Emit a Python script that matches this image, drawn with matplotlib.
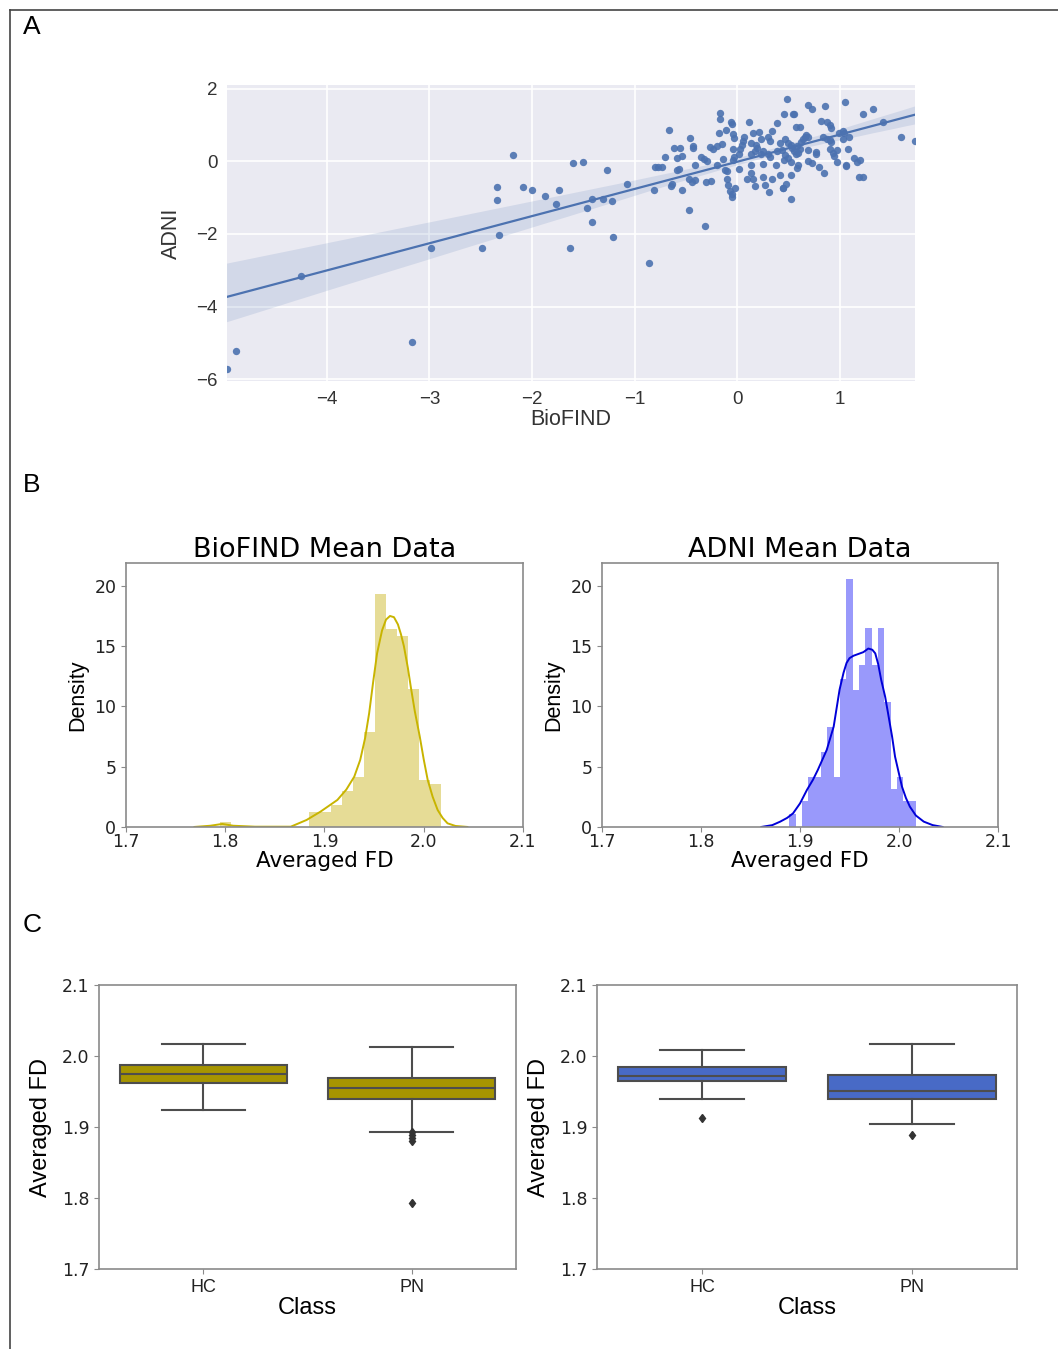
import numpy as np
import matplotlib
matplotlib.use("Agg")
import matplotlib.pyplot as plt
from matplotlib.lines import Line2D
import seaborn as sns

plt.rcParams['font.family'] = ['DejaVu Sans']
ARIAL = 'Liberation Sans'

# --- Panel A : BioFIND vs ADNI scores ---
biofind = [-4.97, -4.88, -4.25, -3.17, -2.98, -2.49, -2.32, -2.34, -2.34, -2.19, -2.09, -2.00,
           -1.87, -1.74, -1.77, -1.63, -1.60, -1.50, -1.27, -1.08, -1.42, -1.31, -1.22, -1.46,
           -1.42, -1.21, -0.86,
           -0.67, -0.81, -0.80, -0.77, -0.73, -0.71, -0.65, -0.64, -0.62, -0.59, -0.56, -0.54,
           -0.59, -0.57, -0.54, -0.47, -0.32, -0.46, -0.43, -0.43, -0.41, -0.47, -0.44, -0.41,
           -0.35, -0.33, -0.30, -0.31, -0.26, -0.27, -0.24, -0.20, -0.15, -0.18, -0.17, -0.17,
           -0.20, -0.14, -0.12, -0.10, -0.10, -0.09, -0.07, -0.05, -0.05, -0.02, -0.11, -0.06,
           -0.05, -0.04, -0.03, -0.04, -0.03, -0.04, 0.02, 0.03, 0.04, 0.05, 0.06, 0.02,
           0.09, 0.11, 0.13, 0.15, 0.13, 0.17, 0.19, 0.18, 0.13, 0.13, 0.15, 0.17,
           0.21, 0.23, 0.23, 0.25, 0.25, 0.25, 0.27, 0.31, 0.30, 0.32, 0.34, 0.30,
           0.32, 0.34, 0.39, 0.39, 0.41, 0.43, 0.38, 0.41, 0.44, 0.45, 0.48, 0.46,
           0.49, 0.52, 0.53, 0.45, 0.46, 0.49, 0.52, 0.47, 0.44, 0.52, 0.52, 0.54,
           0.55, 0.55, 0.57, 0.58, 0.59, 0.61, 0.57, 0.61, 0.58, 0.59, 0.62, 0.64,
           0.66, 0.67, 0.69, 0.69, 0.69, 0.73, 0.69, 0.77, 0.77, 0.73, 0.79, 0.84,
           0.81, 0.87, 0.90, 0.91, 0.85, 0.83, 0.87, 0.90, 0.91, 0.90, 0.93, 0.94,
           0.97, 0.97, 0.99, 1.03, 1.04, 1.05, 1.03, 1.08, 1.06, 1.06, 1.09, 1.14,
           1.16, 1.19, 1.18, 1.22, 1.22, 1.32, 1.42, 1.59, 1.73]
adni = [-5.71, -5.23, -3.15, -4.97, -2.39, -2.39, -2.04, -1.07, -0.72, 0.18, -0.72, -0.79,
        -0.97, -0.79, -1.18, -2.39, -0.04, -0.01, -0.25, -0.62, -1.03, -1.05, -1.09, -1.30,
        -1.66, -2.08, -2.79,
        0.85, -0.80, -0.17, -0.17, -0.17, 0.12, -0.69, -0.62, 0.37, 0.10, 0.37, 0.14,
        -0.25, -0.22, -0.80, -1.35, -1.78, 0.64, 0.41, 0.37, -0.11, -0.48, -0.57, -0.53,
        0.12, 0.05, 0.00, -0.58, -0.55, 0.38, 0.33, 0.42, 0.47, 0.79, 1.34, 1.15,
        -0.11, 0.06, -0.25, -0.28, -0.49, -0.66, -0.81, -0.90, -0.99, -0.75, 0.85, 1.07,
        1.02, 0.74, 0.63, 0.35, 0.12, 0.03, 0.21, 0.33, 0.45, 0.57, 0.67, -0.21,
        -0.49, 1.07, 0.50, 0.78, 0.21, 0.27, 0.36, 0.45, -0.10, -0.32, -0.49, -0.69,
        0.80, 0.62, 0.21, 0.28, -0.08, -0.43, -0.66, -0.86, 0.67, 0.57, 0.82, 0.21,
        0.12, -0.48, 1.04, 0.28, 0.50, 0.31, -0.11, -0.39, -0.74, 1.29, 1.71, 0.60,
        0.51, 0.46, 0.37, 0.03, 0.16, 0.10, -0.03, -0.64, -0.73, -1.03, -0.37, 1.29,
        1.29, 0.29, 0.20, 0.42, 0.24, 0.33, 0.93, 0.93, -0.19, -0.09, 0.53, 0.62,
        0.67, 0.72, 0.66, 0.01, 1.56, 1.43, 0.30, 0.25, 0.20, -0.06, -0.17, -0.32,
        1.11, 1.07, 1.00, 0.91, 1.52, 0.66, 0.62, 0.58, 0.54, 0.33, 0.24, 0.15,
        0.30, -0.03, 0.77, 0.82, 0.77, 1.62, 0.60, 0.35, -0.09, -0.13, 0.67, 0.10,
        -0.01, 0.04, -0.43, -0.43, 1.29, 1.45, 1.07, 0.67, 0.56]

# --- Panel B : histograms (density) + KDE ---
bio_hist = [0.39, 0, 0, 0, 0, 0, 0, 0, 1.27, 1.27, 1.8, 3.0, 4.15, 7.9, 19.3, 16.4,
            15.8, 11.45, 3.9, 3.57]
bio_range = (1.7949, 2.0179)
bio_kde_x = [1.769, 1.785, 1.797, 1.808, 1.83, 1.866, 1.882, 1.896, 1.913, 1.922, 1.930,
             1.936, 1.941, 1.945, 1.949, 1.953, 1.958, 1.962, 1.966, 1.970, 1.974, 1.977,
             1.980, 1.984, 1.987, 1.991, 1.996, 2.000, 2.004, 2.009, 2.014, 2.019, 2.024,
             2.032, 2.044]
bio_kde_y = [0, 0.1, 0.25, 0.1, 0.02, 0.02, 0.58, 1.27, 2.24, 3.1, 4.17, 5.56, 7.4, 9.43,
             12.0, 14.4, 16.3, 17.2, 17.5, 17.4, 16.8, 16.0, 15.0, 13.2, 11.6, 9.6, 7.5,
             5.6, 3.9, 2.5, 1.41, 0.75, 0.3, 0.08, 0]

adni_hist = [1.05, 0, 2.16, 4.12, 4.12, 6.25, 8.27, 4.15, 12.3, 20.6, 11.4, 13.4, 16.5,
             13.4, 16.5, 10.35, 3.15, 4.12, 2.16, 2.16]
adni_range = (1.8892, 2.0172)
adni_kde_x = [1.861, 1.872, 1.880, 1.887, 1.893, 1.900, 1.907, 1.913, 1.918, 1.927, 1.934,
              1.940, 1.944, 1.947, 1.950, 1.954, 1.959, 1.964, 1.969, 1.973, 1.976, 1.979,
              1.982, 1.986, 1.989, 1.993, 1.996, 2.000, 2.003, 2.007, 2.011, 2.017, 2.025,
              2.034, 2.044]
adni_kde_y = [0, 0.15, 0.44, 0.75, 1.13, 1.95, 3.07, 3.9, 4.73, 6.39, 8.32, 11.4, 12.8,
              13.6, 14.0, 14.2, 14.35, 14.5, 14.8, 14.7, 14.4, 13.5, 12.2, 10.8, 9.4, 7.5,
              5.83, 4.4, 3.34, 2.4, 1.68, 0.95, 0.44, 0.15, 0]

# --- Panel C : box plot statistics per class ---
classes = ['HC', 'PN']
bio_box = {  # whislo, q1, med, q3, whishi, outliers
    'HC': [1.9244, 1.9615, 1.9746, 1.9873, 2.0173, []],
    'PN': [1.8934, 1.9390, 1.9549, 1.9695, 2.0127, [1.8934, 1.8887, 1.8841, 1.8807, 1.7934]],
}
adni_box = {
    'HC': [1.9390, 1.9644, 1.9718, 1.9840, 2.0089, [1.9122]],
    'PN': [1.9042, 1.9399, 1.9511, 1.9732, 2.0173, [1.8887]],
}

fig = plt.figure(figsize=(10.58, 13.49), dpi=100)

# cadre autour de la figure
fig.add_artist(Line2D([0.0095, 1.0], [0.9926, 0.9926], color='#444444', lw=1.2))
fig.add_artist(Line2D([0.0095, 0.0095], [0.0, 0.9926], color='#444444', lw=1.2))

for lab, yy in [('A', 0.980), ('B', 0.6405), ('C', 0.3145)]:
    fig.text(0.030, yy, lab, fontsize=19, family=ARIAL, ha='center', va='center')

# Panel A
axA = fig.add_axes([0.2146, 0.7176, 0.6503, 0.2194])
axA.set_facecolor('#EAEAF2')
axA.grid(True, color='white', lw=1.2)
axA.set_axisbelow(True)
for s in axA.spines.values():
    s.set_visible(False)
sns.regplot(x=np.array(biofind), y=np.array(adni), ax=axA, seed=3, color='#4C72B0',
            scatter_kws={'s': 28, 'alpha': 0.9, 'linewidths': 0},
            line_kws={'lw': 1.6})
axA.set_xlim(min(biofind), max(biofind))
axA.set_ylim(-6.05, 2.1)
axA.set_xticks([-4, -3, -2, -1, 0, 1])
axA.set_yticks([2, 0, -2, -4, -6])
axA.tick_params(length=0, labelsize=13.5, pad=7)
for t in axA.get_xticklabels() + axA.get_yticklabels():
    t.set_family(ARIAL)
    t.set_color('#333333')
axA.set_xlabel('BioFIND', fontsize=15.5, family=ARIAL, color='#333333', labelpad=1)
axA.set_ylabel('ADNI', fontsize=15.5, family=ARIAL, color='#333333', labelpad=10)


def style_plain(ax):
    for s in ax.spines.values():
        s.set_color('#8a8a8a')
        s.set_linewidth(1.2)
    ax.tick_params(color='#8a8a8a', length=3.5, labelsize=12.5, labelcolor='#222222')


# Panel B
panels_b = [
    ([0.1191, 0.3870, 0.3752, 0.1957], bio_hist, bio_range, bio_kde_x, bio_kde_y,
     '#e6dc96', '#c8b400', 'BioFIND Mean Data', 4),
    ([0.5690, 0.3870, 0.3743, 0.1957], adni_hist, adni_range, adni_kde_x, adni_kde_y,
     '#9999fb', '#0000d8', 'ADNI Mean Data', 4),
]
for pos, hist, rng, kx, ky, col, kcol, title, lp in panels_b:
    ax = fig.add_axes(pos)
    edges = np.linspace(rng[0], rng[1], len(hist) + 1)
    ax.bar(edges[:-1], hist, width=edges[1] - edges[0], align='edge', color=col, lw=0)
    ax.plot(kx, ky, color=kcol, lw=1.4)
    ax.set_xlim(1.7, 2.1)
    ax.set_ylim(0, 21.9)
    ax.set_xticks([1.7, 1.8, 1.9, 2.0, 2.1])
    ax.set_yticks([0, 5, 10, 15, 20])
    style_plain(ax)
    ax.tick_params(axis='x', pad=1)
    ax.set_title(title, fontsize=19.5, pad=3)
    ax.set_xlabel('Averaged FD', fontsize=15.5, labelpad=0)
    ax.set_ylabel('Density', fontsize=15.5, family=ARIAL, labelpad=lp)

# Panel C
panels_c = [
    ([0.0936, 0.0593, 0.3941, 0.2105], bio_box, '#a69500'),
    ([0.5643, 0.0593, 0.3970, 0.2105], adni_box, '#486ac6'),
]
for pos, stats, col in panels_c:
    ax = fig.add_axes(pos)
    bxp_stats = []
    for c in classes:
        lo, q1, med, q3, hi, fl = stats[c]
        bxp_stats.append(dict(whislo=lo, q1=q1, med=med, q3=q3, whishi=hi, fliers=fl, label=c))
    lc = '#4d4d4d'
    ax.bxp(bxp_stats, positions=[0, 1], widths=0.8, patch_artist=True,
           boxprops=dict(facecolor=col, edgecolor=lc, lw=1.5),
           medianprops=dict(color=lc, lw=1.5),
           whiskerprops=dict(color=lc, lw=1.5),
           capprops=dict(color=lc, lw=1.5),
           capwidths=0.4,
           flierprops=dict(marker='d', markersize=4.5, markerfacecolor='#333333',
                           markeredgecolor='#333333'))
    ax.set_xlim(-0.5, 1.5)
    ax.set_ylim(1.7, 2.1)
    ax.set_yticks([1.7, 1.8, 1.9, 2.0, 2.1])
    ax.set_xticks([0, 1])
    ax.set_xticklabels(classes)
    style_plain(ax)
    for t in ax.get_xticklabels():
        t.set_family(ARIAL)
        t.set_fontsize(13)
    ax.set_xlabel('Class', fontsize=17, family=ARIAL, labelpad=1)
    ax.set_ylabel('Averaged FD', fontsize=17, family=ARIAL, labelpad=7)

fig.savefig('out.png', dpi=100)
